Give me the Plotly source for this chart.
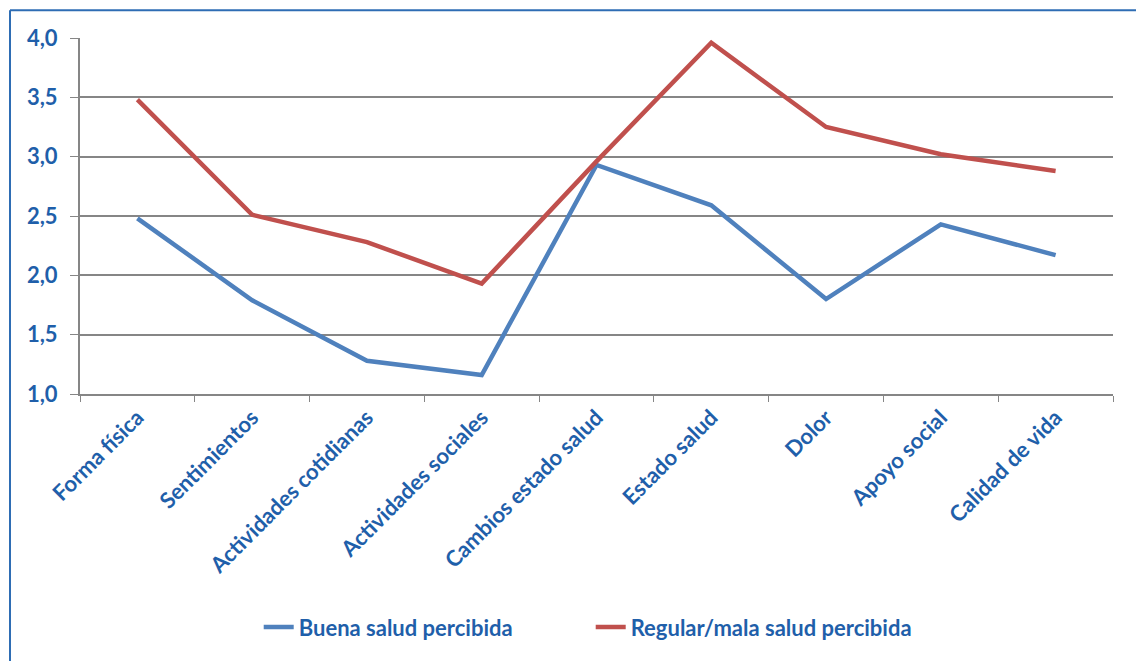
import plotly.graph_objects as go

categorias = ["Forma física", "Sentimientos", "Actividades cotidianas", "Actividades sociales",
              "Cambios estado salud", "Estado salud", "Dolor", "Apoyo social", "Calidad de vida"]
buena = [2.48, 1.79, 1.28, 1.16, 2.93, 2.59, 1.80, 2.43, 2.17]
regular_mala = [3.48, 2.51, 2.28, 1.93, 2.96, 3.96, 3.25, 3.02, 2.88]
serie_nombres = ["Buena salud percibida", "Regular/mala salud percibida"]
y_ticks = [1.0, 1.5, 2.0, 2.5, 3.0, 3.5, 4.0]

TXT = "#1F5FAA"
FONT = "Lato"

fig = go.Figure()
fig.add_trace(go.Scatter(x=categorias, y=buena, mode="lines", name=serie_nombres[0],
                         line=dict(color="#4F81BD", width=4.5)))
fig.add_trace(go.Scatter(x=categorias, y=regular_mala, mode="lines", name=serie_nombres[1],
                         line=dict(color="#C0504D", width=4.5)))

fig.update_layout(
    width=1136, height=661,
    margin=dict(l=80, r=23, t=38, b=265),
    paper_bgcolor="white", plot_bgcolor="white",
    separators=",.",
    font=dict(family=FONT, color=TXT, size=22),
    showlegend=True,
    legend=dict(orientation="h", x=0.173, xanchor="left", y=-0.655, yanchor="middle",
                font=dict(family=FONT, size=22, color=TXT, weight="bold"),
                entrywidth=287, entrywidthmode="pixels", tracegroupgap=0),
    xaxis=dict(type="category", tickson="boundaries", ticks="outside", ticklen=6,
               tickcolor="#868686", showgrid=False, showline=True, linecolor="#868686",
               linewidth=2, tickangle=-45, range=[-0.5, 8.5], automargin=False,
               tickfont=dict(family=FONT, size=22, color=TXT, weight="bold")),
    yaxis=dict(range=[1.0, 4.0], tickvals=y_ticks, tickformat=".1f", ticks="outside",
               ticklen=8, tickcolor="#868686", showgrid=True, gridcolor="#868686",
               gridwidth=2, showline=True, linecolor="#868686", linewidth=2, zeroline=False,
               automargin=False, ticklabelstandoff=8,
               tickfont=dict(family=FONT, size=22, color=TXT, weight="bold")),
    shapes=[
        dict(type="line", xref="paper", yref="paper", x0=-70/1033, x1=-70/1033,
             y0=(396-10)/358, y1=(396-670)/358, line=dict(color="#2E6DB4", width=2)),
        dict(type="line", xref="paper", yref="paper", x0=-70/1033, x1=1.1,
             y0=(396-10)/358, y1=(396-10)/358, line=dict(color="#2E6DB4", width=2)),
    ],
)

fig.write_html("out.html", config={"displayModeBar": False},
               post_script="document.body.style.margin='0';")
